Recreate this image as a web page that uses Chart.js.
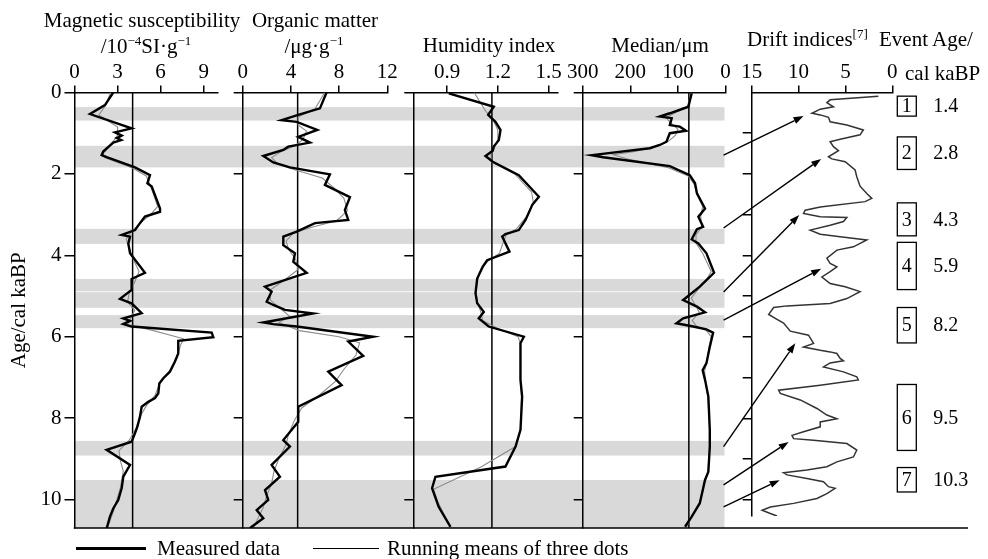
<!DOCTYPE html>
<html>
<head>
<meta charset="utf-8">
<script src="https://cdn.jsdelivr.net/npm/chart.js@4.4.0/dist/chart.umd.min.js"></script>
<style>
  body { margin: 0; background: #fff; }
  #wrap { position: relative; width: 988px; height: 559px; overflow: hidden; font-family: 'Liberation Serif', 'Times New Roman', serif; color: #000; }
  #wrap canvas { position: absolute; top: 0; }
  .t { position: absolute; font-size: 21px; line-height: 21px; white-space: nowrap; }
  .c { transform: translateX(-50%); }
  .sup { font-size: 13px; position: relative; top: -8px; }
  .lg { position: absolute; background: #000; }
</style>
</head>
<body>
<div id="wrap">
  <canvas id="bands" width="988" height="559" style="left:0"></canvas>
  <canvas id="magChart"></canvas>
  <canvas id="orgChart"></canvas>
  <canvas id="humChart"></canvas>
  <canvas id="medChart"></canvas>
  <canvas id="driftChart"></canvas>
  <canvas id="arrows" width="988" height="559" style="left:0"></canvas>

  <div class="t c" style="left:142px; top:10px">Magnetic susceptibility</div>
  <div class="t c" style="left:146px; top:36px">/10<span class="sup">−4</span>SI·g<span class="sup">−1</span></div>
  <div class="t c" style="left:315px; top:10px">Organic matter</div>
  <div class="t c" style="left:314px; top:36px">/μg·g<span class="sup">−1</span></div>
  <div class="t c" style="left:489px; top:35px">Humidity index</div>
  <div class="t c" style="left:660px; top:35px">Median/μm</div>
  <div class="t" style="left:747px; top:29px">Drift indices<span class="sup">[7]</span></div>
  <div class="t" style="left:879px; top:29px">Event Age/</div>
  <div class="t" style="left:905px; top:63px">cal kaBP</div>

  <div class="lg" style="left:76px; top:547px; width:70px; height:3px"></div>
  <div class="t" style="left:157px; top:538px">Measured data</div>
  <div class="lg" style="left:313px; top:548px; width:66px; height:1px"></div>
  <div class="t" style="left:387px; top:538px">Running means of three dots</div>
</div>
<script>
// tick labels
const kaTicks = [0, 2, 4, 6, 8, 10];
const driftKaTicks = [1, 2, 3, 4, 5, 6, 7, 8, 9, 10];
const magTicks = [0, 3, 6, 9];
const orgTicks = [0, 4, 8, 12];
const humTicks = [0.9, 1.2, 1.5];
const medTicks = [300, 200, 100, 0];
const driftTicks = [15, 10, 5, 0];

// series as [value, age ka]
const magMeasured = [[2.7,0],[2.12,0.31],[1.08,0.53],[3.98,0.88],[2.82,0.98],[3.29,1.06],[2.95,1.12],[3.25,1.17],[2.7,1.23],[2.0,1.45],[1.89,1.54],[2.24,1.59],[4.22,1.84],[5.26,2.03],[5.08,2.23],[5.38,2.31],[5.96,2.85],[5.96,2.93],[4.91,3.05],[4.56,3.21],[4.22,3.38],[3.29,3.5],[3.87,3.54],[3.75,3.71],[3.87,3.95],[4.91,4.43],[3.98,4.58],[3.98,4.85],[3.17,5.07],[3.98,5.18],[4.68,5.42],[3.4,5.55],[3.87,5.61],[3.4,5.69],[3.98,5.75],[9.56,5.9],[9.67,6.01],[7.23,6.1],[7.23,6.41],[7.0,6.61],[6.65,6.86],[6.19,7.02],[5.91,7.15],[5.84,7.39],[5.61,7.51],[5.14,7.6],[4.68,7.72],[4.56,7.97],[4.38,8.21],[4.22,8.37],[3.98,8.58],[2.24,8.78],[3.87,9.15],[3.4,9.44],[3.29,9.72],[3.05,10.01],[2.7,10.22],[2.47,10.42],[2.24,10.71]];
const magRunning = [[2.5,0],[2.2,0.3],[1.7,0.55],[3.0,0.85],[3.0,1.05],[2.6,1.25],[2.0,1.5],[2.1,1.6],[4.0,1.85],[5.0,2.05],[5.3,2.3],[5.8,2.8],[5.3,3.0],[4.6,3.2],[3.9,3.45],[3.6,3.6],[3.8,3.8],[4.1,4.1],[4.5,4.4],[4.2,4.65],[3.8,4.95],[3.7,5.15],[4.2,5.35],[3.9,5.55],[3.7,5.7],[5.5,5.85],[7.6,6.05],[7.4,6.2],[7.1,6.55],[6.6,6.85],[6.0,7.1],[5.6,7.45],[5.0,7.7],[4.6,7.95],[4.3,8.25],[3.8,8.55],[3.1,8.8],[3.2,9.05],[3.4,9.3],[3.2,9.7],[2.8,10.2],[2.3,10.7]];
const magMean = 4.05;

const orgMeasured = [[6.96,0],[6.41,0.39],[4.61,0.55],[3.23,0.68],[4.48,0.72],[6.19,0.92],[4.61,1.09],[5.58,1.23],[3.78,1.33],[3.37,1.41],[1.71,1.56],[2.54,1.72],[3.92,1.84],[7.24,2.01],[6.82,2.27],[8.9,2.57],[8.48,2.89],[8.76,3.13],[6.0,3.21],[4.48,3.42],[3.37,3.54],[3.37,3.75],[4.34,3.95],[4.2,4.16],[5.31,4.43],[1.85,4.77],[2.4,4.89],[1.99,5.14],[2.54,5.22],[3.51,5.34],[5.85,5.43],[1.71,5.65],[2.54,5.69],[4.48,5.75],[10.83,6.0],[8.76,6.12],[10.0,6.47],[7.1,6.86],[8.21,7.19],[4.61,7.72],[4.61,8.09],[3.37,8.54],[3.92,8.7],[2.4,9.15],[3.09,9.44],[1.85,9.77],[2.12,10.01],[1.16,10.26],[1.71,10.46],[0.61,10.7]];
const orgRunning = [[6.8,0],[6.0,0.4],[4.6,0.6],[4.6,0.8],[5.3,0.95],[5.0,1.15],[4.4,1.3],[3.2,1.45],[2.4,1.6],[2.9,1.75],[4.3,1.9],[6.6,2.1],[7.6,2.35],[8.4,2.6],[8.7,2.9],[7.8,3.15],[5.9,3.3],[4.2,3.45],[3.6,3.65],[3.8,3.85],[4.4,4.1],[4.6,4.35],[3.5,4.6],[2.3,4.85],[2.3,5.1],[3.3,5.35],[3.9,5.5],[3.0,5.65],[4.7,5.85],[8.0,6.0],[9.7,6.15],[9.4,6.45],[8.4,6.8],[7.7,7.1],[6.3,7.45],[4.9,7.75],[4.3,8.05],[3.8,8.4],[3.6,8.65],[3.0,9.0],[2.6,9.3],[2.4,9.6],[2.0,9.9],[1.7,10.2],[1.2,10.5],[0.9,10.7]];
const orgMean = 4.56;

const humMeasured = [[0.91,0.02],[1.176,0.35],[1.143,0.55],[1.186,0.72],[1.216,0.92],[1.206,1.17],[1.176,1.33],[1.17,1.43],[1.127,1.56],[1.17,1.7],[1.324,2.03],[1.443,2.56],[1.404,2.76],[1.364,3.13],[1.324,3.38],[1.245,3.48],[1.226,3.54],[1.269,3.91],[1.137,4.12],[1.111,4.28],[1.078,4.57],[1.068,4.93],[1.078,5.18],[1.117,5.39],[1.087,5.55],[1.146,5.75],[1.354,6.0],[1.334,6.16],[1.334,7.06],[1.344,7.47],[1.334,8.29],[1.305,8.7],[1.245,9.19],[0.831,9.44],[0.811,9.72],[0.85,10.18],[0.92,10.67]];
const humRunning = [[1.06,0],[1.13,0.47],[1.17,0.65],[1.2,0.92],[1.2,1.15],[1.18,1.35],[1.16,1.5],[1.16,1.7],[1.3,2.0],[1.4,2.45],[1.41,2.7],[1.37,3.05],[1.31,3.35],[1.25,3.5],[1.23,3.7],[1.21,3.95],[1.14,4.15],[1.1,4.35],[1.08,4.6],[1.07,4.9],[1.08,5.15],[1.1,5.4],[1.11,5.6],[1.2,5.8],[1.32,6.0],[1.335,6.2],[1.334,7.0],[1.34,7.5],[1.334,8.3],[1.305,8.7],[1.1,9.2],[0.82,9.75],[0.85,10.1],[0.91,10.6]];
const humMean = 1.165;

const medMeasured = [[71,0.02],[78,0.35],[117,0.51],[138,0.59],[113,0.63],[117,0.8],[96,0.84],[83,0.94],[117,1.0],[124,1.21],[138,1.29],[159,1.37],[281,1.54],[257,1.59],[117,1.81],[75,2.03],[64,2.23],[60,2.48],[43,2.85],[57,3.05],[47,3.3],[60,3.36],[71,3.61],[57,3.71],[40,3.95],[24,4.43],[40,4.61],[54,4.77],[89,5.1],[60,5.26],[43,5.4],[89,5.55],[103,5.67],[68,5.75],[40,5.82],[26,5.9],[33,6.25],[40,6.65],[48,6.82],[43,7.06],[36,7.47],[33,8.29],[33,8.7],[36,9.32],[43,9.52],[54,10.09],[71,10.42],[85,10.67]];
const medRunning = [[72,0],[80,0.35],[110,0.52],[125,0.62],[115,0.75],[100,0.9],[105,1.05],[120,1.2],[140,1.3],[190,1.45],[236,1.53],[200,1.65],[120,1.85],[78,2.05],[66,2.25],[60,2.5],[48,2.8],[52,3.05],[50,3.3],[62,3.5],[62,3.7],[48,3.95],[30,4.4],[40,4.6],[55,4.8],[72,5.05],[62,5.25],[55,5.4],[70,5.6],[60,5.75],[40,5.85],[30,6.0],[35,6.3],[40,6.65],[44,6.85],[42,7.1],[37,7.5],[33,8.3],[33,8.7],[37,9.3],[44,9.55],[55,10.1],[72,10.45],[82,10.67]];
const medMean = 77;

const driftIndex = [[1.49,0.09],[6.63,0.18],[6.98,0.25],[6.28,0.35],[7.69,0.41],[8.57,0.51],[7.69,0.55],[6.81,0.61],[6.63,0.72],[4.85,0.8],[3.09,0.92],[3.44,1.04],[5.56,1.15],[6.63,1.21],[6.28,1.33],[5.74,1.43],[6.81,1.58],[6.45,1.63],[5.03,1.7],[3.97,1.9],[3.79,2.07],[3.44,2.3],[2.72,2.48],[2.19,2.6],[2.9,2.68],[7.69,2.81],[9.29,2.89],[9.47,2.97],[7.69,3.05],[4.85,3.07],[5.21,3.17],[6.63,3.26],[8.76,3.38],[7.69,3.48],[5.56,3.54],[2.72,3.62],[4.15,3.79],[5.91,3.87],[6.98,4.07],[6.63,4.2],[5.91,4.28],[6.63,4.4],[7.51,4.53],[6.63,4.69],[5.03,4.77],[3.44,4.89],[4.85,5.06],[6.63,5.18],[11.23,5.24],[12.66,5.28],[13.19,5.45],[12.3,5.57],[11.6,5.66],[10.88,5.86],[8.94,5.96],[8.4,6.16],[9.47,6.25],[7.69,6.33],[6.63,6.37],[5.91,6.41],[5.56,6.53],[5.21,6.59],[6.63,6.64],[7.34,6.74],[5.21,6.86],[3.79,6.98],[3.62,7.06],[7.69,7.19],[12.13,7.31],[11.95,7.39],[9.82,7.55],[8.04,7.76],[6.98,7.92],[5.91,8.01],[7.69,8.09],[7.69,8.21],[9.47,8.33],[10.7,8.42],[10.53,8.5],[8.4,8.54],[4.85,8.62],[3.79,8.78],[4.15,8.95],[5.91,9.07],[6.98,9.19],[9.11,9.27],[11.6,9.34],[11.23,9.39],[9.11,9.48],[7.34,9.56],[6.81,9.68],[6.1,9.72],[6.98,9.85],[8.04,9.97],[10.53,10.09],[13.01,10.18],[13.89,10.26],[13.01,10.34],[12.3,10.4]];

// shaded event bands (ka)
const bandTop = [0.36, 1.31, 3.35, 4.58, 4.905, 5.47, 8.56, 9.52];
const bandBottom = [0.69, 1.84, 3.72, 4.885, 5.29, 5.79, 8.92, 10.7];

// arrows: from band (median panel edge) to drift curve
const arrowFromAge = [1.54, 3.33, 4.9, 5.59, 8.7, 9.64, 10.18];
const arrowToAge = [0.58, 1.63, 3.01, 4.33, 6.16, 8.58, 9.52];
const arrowToDrift = [9.47, 7.59, 9.93, 7.59, 10.35, 11.06, 12.02];

// event boxes
const eventNo = ['1', '2', '3', '4', '5', '6', '7'];
const eventAge = ['1.4', '2.8', '4.3', '5.9', '8.2', '9.5', '10.3'];
const eventTop = [0.09, 1.09, 2.71, 3.68, 5.28, 7.17, 9.21];
const eventBottom = [0.58, 1.89, 3.52, 4.84, 6.15, 8.79, 9.81];

const SERIF = "'Liberation Serif', 'Times New Roman', serif";
const AREA_TOP = 92.5;

function series(points, color, width) {
    return {
        data: points.map(p => ({ x: p[0], y: p[1] })),
        borderColor: color,
        borderWidth: width,
        pointRadius: 0,
        fill: false,
        tension: 0
    };
}

function meanLine(v, yMax) {
    return series([[v, 0], [v, yMax]], '#000', 1.5);
}

function makePanel(canvasId, o) {
    const cv = document.getElementById(canvasId);
    const margin = o.margin !== undefined ? o.margin : 20;
    const left = Math.floor(o.left - o.yWidth - margin);
    const right = o.canvasRight || Math.ceil(o.right + 25);
    cv.width = right - left;
    cv.height = 559;
    cv.style.left = left + 'px';

    const chart = new Chart(cv, {
        type: 'line',
        data: { datasets: o.datasets },
        options: {
            responsive: false,
            animation: false,
            events: [],
            layout: {
                padding: { left: o.left - o.yWidth - left, right: right - o.right, top: 0, bottom: 559 - o.bottom }
            },
            plugins: { legend: { display: false }, tooltip: { enabled: false } },
            scales: {
                x: {
                    type: 'linear',
                    position: 'top',
                    min: o.xMin,
                    max: o.xMax,
                    reverse: !!o.xReverse,
                    afterBuildTicks: s => { s.ticks = o.xTicks.map(v => ({ value: v })); },
                    afterFit: s => { s.height = AREA_TOP; },
                    ticks: {
                        color: '#000',
                        padding: 0,
                        maxRotation: 0,
                        autoSkip: false,
                        font: { family: SERIF, size: 21 },
                        callback: v => String(v)
                    },
                    grid: { drawOnChartArea: false, drawTicks: true, tickLength: 7, color: '#000', lineWidth: 1.5 },
                    border: { color: '#000', width: 1.5 }
                },
                y: {
                    type: 'linear',
                    position: 'left',
                    min: 0,
                    max: o.yMax,
                    reverse: true,
                    afterBuildTicks: s => { s.ticks = o.yTicks.map(v => ({ value: v })); },
                    afterFit: s => { s.width = o.yWidth; },
                    ticks: {
                        display: !!o.yLabels,
                        color: '#000',
                        padding: 3,
                        font: { family: SERIF, size: 21 },
                        callback: v => String(v)
                    },
                    title: {
                        display: !!o.yLabels,
                        text: 'Age/cal kaBP',
                        color: '#000',
                        font: { family: SERIF, size: 21 },
                        padding: { top: 7, bottom: 0 }
                    },
                    grid: { drawOnChartArea: false, drawTicks: true, tickLength: o.yTick || 9, color: '#000', lineWidth: 1.5 },
                    border: { color: '#000', width: 1.5 }
                }
            }
        },
        plugins: o.plugins || []
    });
    chart.$left = left;
    return chart;
}

// Event boxes and ages on the right of the drift panel
const eventPlugin = {
    id: 'eventBoxes',
    afterDraw(chart) {
        const ctx = chart.ctx;
        const y = chart.scales.y;
        const a = chart.chartArea;
        ctx.save();
        ctx.strokeStyle = '#000';
        ctx.lineWidth = 1.3;
        ctx.fillStyle = '#000';
        ctx.font = '20px ' + SERIF;
        ctx.textBaseline = 'middle';
        eventNo.forEach((n, i) => {
            const t = y.getPixelForValue(eventTop[i]);
            const b = y.getPixelForValue(eventBottom[i]);
            const bx = a.right + 5;
            ctx.strokeRect(bx, t, 19, b - t);
            ctx.textAlign = 'center';
            ctx.fillText(n, bx + 9.5, (t + b) / 2 + 1);
            ctx.textAlign = 'left';
            ctx.fillText(eventAge[i], a.right + 41, (t + b) / 2 + 1);
        });
        ctx.restore();
    }
};

const BLACK = '#000';
const GREY = '#8c8c8c';

const magChart = makePanel('magChart', {
    left: 74.5, right: 218, bottom: 528, yWidth: 74.5, margin: 0, yTick: 10, yLabels: true,
    xMin: 0, xMax: 10, xTicks: magTicks, yMax: 10.7, yTicks: kaTicks,
    datasets: [series(magMeasured, BLACK, 2.4), series(magRunning, GREY, 1.1), meanLine(magMean, 10.7)]
});

const orgChart = makePanel('orgChart', {
    left: 242.7, right: 387.3, bottom: 528, yWidth: 10,
    xMin: 0, xMax: 12, xTicks: orgTicks, yMax: 10.7, yTicks: kaTicks,
    datasets: [series(orgMeasured, BLACK, 2.4), series(orgRunning, GREY, 1.1), meanLine(orgMean, 10.7)]
});

const humChart = makePanel('humChart', {
    left: 413.3, right: 558, bottom: 528, yWidth: 10,
    xMin: 0.7, xMax: 1.556, xTicks: humTicks, yMax: 10.7, yTicks: kaTicks,
    datasets: [series(humMeasured, BLACK, 2.4), series(humRunning, GREY, 1.1), meanLine(humMean, 10.7)]
});

const medChart = makePanel('medChart', {
    left: 582.7, right: 725.5, bottom: 528, yWidth: 10,
    xMin: 0, xMax: 300, xReverse: true, xTicks: medTicks, yMax: 10.7, yTicks: kaTicks,
    datasets: [series(medMeasured, BLACK, 2.4), series(medRunning, GREY, 1.1), meanLine(medMean, 10.7)]
});

const driftChart = makePanel('driftChart', {
    left: 751.7, right: 892.3, bottom: 516, yWidth: 10, canvasRight: 988,
    xMin: 0, xMax: 15, xReverse: true, xTicks: driftTicks, yMax: 10.4, yTicks: driftKaTicks,
    datasets: [series(driftIndex, '#333', 1.5)],
    plugins: [eventPlugin]
});

// grey bands behind all panels
(function drawBands() {
    const ctx = document.getElementById('bands').getContext('2d');
    const y = magChart.scales.y;
    const x0 = magChart.$left + magChart.chartArea.left;
    const x1 = medChart.$left + medChart.chartArea.right - 1;
    ctx.fillStyle = '#d9d9d9';
    bandTop.forEach((t, i) => {
        const top = y.getPixelForValue(t);
        const bot = y.getPixelForValue(bandBottom[i]);
        ctx.fillRect(x0, top, x1 - x0, bot - top);
    });
})();

// arrows and the common bottom line
(function drawArrows() {
    const ctx = document.getElementById('arrows').getContext('2d');
    ctx.strokeStyle = '#000';
    ctx.fillStyle = '#000';
    ctx.lineWidth = 1.4;
    const sx = medChart.$left + medChart.scales.x.getPixelForValue(4);
    arrowFromAge.forEach((a, i) => {
        const y0 = medChart.scales.y.getPixelForValue(a);
        const x1 = driftChart.$left + driftChart.scales.x.getPixelForValue(arrowToDrift[i]);
        const y1 = driftChart.scales.y.getPixelForValue(arrowToAge[i]);
        const ang = Math.atan2(y1 - y0, x1 - sx);
        const hl = 10, hw = 3.5;
        const bx = x1 - hl * Math.cos(ang), by = y1 - hl * Math.sin(ang);
        ctx.beginPath();
        ctx.moveTo(sx, y0);
        ctx.lineTo(bx, by);
        ctx.stroke();
        ctx.beginPath();
        ctx.moveTo(x1, y1);
        ctx.lineTo(bx + hw * Math.sin(ang), by - hw * Math.cos(ang));
        ctx.lineTo(bx - hw * Math.sin(ang), by + hw * Math.cos(ang));
        ctx.closePath();
        ctx.fill();
    });

    const yb = magChart.chartArea.bottom;
    ctx.lineWidth = 1.5;
    ctx.beginPath();
    ctx.moveTo(magChart.$left + magChart.chartArea.left - 0.75, yb);
    ctx.lineTo(968, yb);
    ctx.stroke();
})();
</script>
</body>
</html>
